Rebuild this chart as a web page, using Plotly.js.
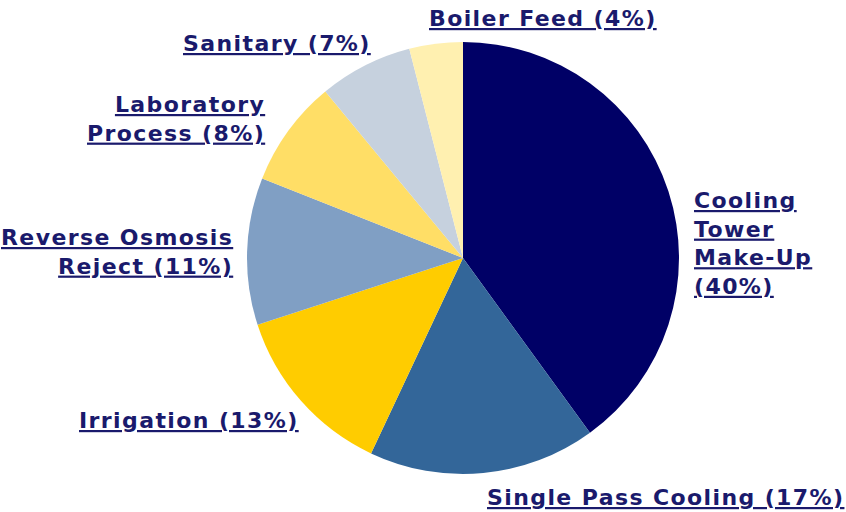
<!DOCTYPE html>
<html><head><meta charset="utf-8">
<script src="https://cdn.plot.ly/plotly-3.0.1.min.js"></script>
<style>html,body{margin:0;padding:0;background:#fff}#chart{width:846px;height:512px}
.annotation-text{letter-spacing:1.4px}</style>
</head><body><div id="chart"></div>
<script>
const categories = ["Cooling Tower Make-Up","Single Pass Cooling","Irrigation","Reverse Osmosis Reject","Laboratory Process","Sanitary","Boiler Feed"];
const values = [40,17,13,11,8,7,4];
const colors = ["#000066","#336699","#ffcc00","#809fc4","#ffde66","#c6d1de","#fff0b0"];
const labelTexts = ["Cooling<br>Tower<br>Make-Up<br>(40%)","Single Pass Cooling (17%)","Irrigation (13%)","Reverse Osmosis<br>Reject (11%)","Laboratory<br>Process (8%)","Sanitary (7%)","Boiler Feed (4%)"];

const W=846,H=512;
const cx=463, cy=258, r=216;
// annotation placement [x px, y px, xanchor]
const place = [[692,243,"left"],[485,497,"left"],[301,420,"right"],[235,252,"right"],[267,119,"right"],[373,43,"right"],[427,18,"left"]];
const font = {family:"DejaVu Sans, Verdana, sans-serif", size:22, weight:"bold", color:"#1a1a6c", lineposition:"under"};
const annotations = labelTexts.map((t,i)=>({
  text:t, x:place[i][0]/W, y:1-place[i][1]/H, xref:"paper", yref:"paper",
  xanchor:place[i][2], yanchor:"middle", align:place[i][2], showarrow:false, font:font
}));
const data=[{type:"pie", labels:categories, values:values, sort:false, direction:"clockwise", rotation:0,
  marker:{colors:colors, line:{width:0}}, textinfo:"none", hoverinfo:"label+percent",
  domain:{x:[(cx-r)/W,(cx+r)/W], y:[1-(cy+r)/H,1-(cy-r)/H]}}];
const layout={width:W,height:H,margin:{l:0,r:0,t:0,b:0},showlegend:false,paper_bgcolor:"#fff",annotations:annotations};
Plotly.newPlot("chart",data,layout,{displayModeBar:false,staticPlot:true});
</script></body></html>
